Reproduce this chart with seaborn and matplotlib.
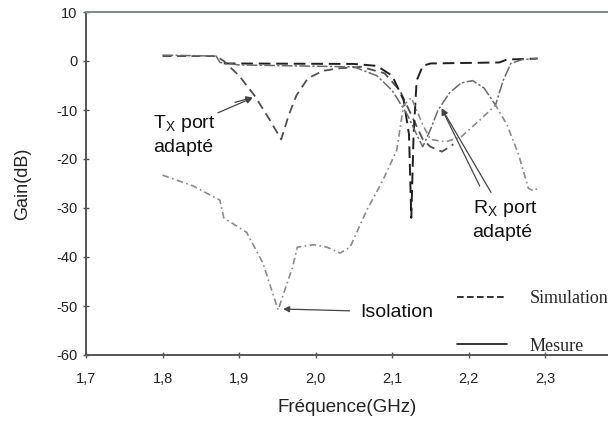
import numpy as np
import pandas as pd
import matplotlib
matplotlib.use("Agg")
import matplotlib.pyplot as plt
from matplotlib.lines import Line2D
import seaborn as sns

# ── Data (frequency in GHz, gain in dB) ──
tx_sim_f = [1.80, 1.87, 1.88, 1.90, 1.92, 1.94, 1.955, 1.965, 1.975, 1.99, 2.01,
            2.03, 2.06, 2.09, 2.11, 2.125, 2.14, 2.15, 2.165, 2.18]
tx_sim_g = [1.0, 1.0, 0.0, -3.0, -7.0, -12.0, -16.0, -11.0, -7.0, -3.5, -2.0,
            -1.5, -1.2, -2.5, -6.0, -11.0, -16.0, -17.5, -18.5, -17.0]

rx_sim_f = [1.88, 2.05, 2.08, 2.10, 2.115, 2.122, 2.125, 2.128, 2.132, 2.14,
            2.15, 2.24, 2.25, 2.29]
rx_sim_g = [-0.5, -0.6, -1.0, -3.0, -8.0, -15.0, -32.0, -15.0, -4.0, -1.0,
            -0.5, -0.3, 0.3, 0.5]

meas_f = [1.80, 1.87, 1.875, 1.90, 2.05, 2.08, 2.10, 2.12, 2.135, 2.14, 2.15,
          2.16, 2.175, 2.19, 2.205, 2.22, 2.235, 2.245, 2.255, 2.27, 2.29]
meas_g = [1.2, 1.0, -0.3, -0.8, -1.2, -3.0, -6.0, -11.0, -16.0, -17.5, -14.0,
          -10.0, -6.5, -4.5, -4.0, -5.5, -9.0, -4.0, -0.5, 0.3, 0.5]

iso_f = [1.80, 1.84, 1.875, 1.88, 1.91, 1.931, 1.951, 1.97, 1.976, 1.997, 2.015,
         2.032, 2.045, 2.067, 2.088, 2.106, 2.115, 2.125, 2.14, 2.15, 2.17, 2.19,
         2.215, 2.235, 2.25, 2.265, 2.278, 2.285, 2.29]
iso_g = [-23.3, -25.5, -28.4, -32.0, -35.0, -41.2, -50.8, -42.0, -38.0, -37.5, -38.0,
         -39.2, -38.0, -30.4, -24.3, -18.2, -9.0, -7.5, -13.0, -16.0, -16.5, -15.5,
         -12.0, -9.0, -13.0, -19.0, -26.0, -26.5, -26.0]

x_ticks = [1.7, 1.8, 1.9, 2.0, 2.1, 2.2, 2.3]
x_tick_labels = ["1,7", "1,8", "1,9", "2,0", "2,1", "2,2", "2,3"]
y_ticks = [10, 0, -10, -20, -30, -40, -50, -60]

sns.set_style("ticks")
plt.rcParams['font.family'] = ['Liberation Sans', 'DejaVu Sans']
plt.rcParams['mathtext.fontset'] = 'custom'
plt.rcParams['mathtext.rm'] = 'Liberation Sans'
plt.rcParams['axes.unicode_minus'] = False

fig = plt.figure(figsize=(6.08, 4.21), dpi=100)
ax = fig.add_axes([86 / 608, 1 - 355 / 421, 522 / 608, 343 / 421])

curves = [
    (tx_sim_f, tx_sim_g, '#505050', (0, (5, 3)), 1.3),
    (rx_sim_f, rx_sim_g, '#202020', (0, (6, 3)), 1.4),
    (meas_f, meas_g, '#6a6a6a', (0, (7, 1.5, 1.5, 1.5)), 1.1),
    (iso_f, iso_g, '#8a8a8a', (0, (4, 2, 1, 2)), 1.2),
]
for f, g, col, ls, lw in curves:
    df = pd.DataFrame({'f': f, 'g': g})
    sns.lineplot(data=df, x='f', y='g', ax=ax, color=col, linewidth=lw,
                 sort=False, estimator=None)
    ax.lines[-1].set_linestyle(ls)

ax.set_xlim(1.7, 2.382)
ax.set_ylim(-60, 10)
ax.set_xticks(x_ticks)
ax.set_xticklabels(x_tick_labels)
ax.set_yticks(y_ticks)
ax.tick_params(axis='both', labelsize=10.5, direction='inout', length=5,
               width=1, color='#555555', labelcolor='#222222')
ax.tick_params(axis='x', pad=10)
ax.set_xlabel('Fréquence(GHz)', fontsize=13.5, color='#222222', labelpad=9)
ax.set_ylabel('Gain(dB)', fontsize=13, color='#222222', labelpad=18)

for side in ['left', 'bottom']:
    ax.spines[side].set_color('#555555')
    ax.spines[side].set_linewidth(1.4)
ax.spines['top'].set_visible(True)
ax.spines['top'].set_color('#7f8c8c')
ax.spines['top'].set_linewidth(1.5)
ax.spines['right'].set_visible(False)

# annotations
arrow = dict(arrowstyle='-|>', color='#444444', lw=0.9, mutation_scale=9)
txt = dict(fontsize=14, color='#111111', ha='left', va='center')
ax.text(1.788, -12.7, r'T$_\mathregular{X}$ port', **txt)
ax.text(1.788, -17.6, 'adapté', **txt)
ax.annotate('', xy=(1.921, -7.3), xytext=(1.869, -10.8), arrowprops=arrow)
ax.annotate('', xy=(1.921, -7.3), xytext=(1.891, -8.6), arrowprops=arrow)

ax.text(2.205, -30.2, r'R$_\mathregular{X}$ port', **txt)
ax.text(2.205, -34.9, 'adapté', **txt)
ax.annotate('', xy=(2.163, -9.2), xytext=(2.231, -27.3), arrowprops=arrow)
ax.annotate('', xy=(2.163, -9.2), xytext=(2.216, -26.0), arrowprops=arrow)

ax.text(2.058, -51.4, 'Isolation', **txt)
ax.annotate('', xy=(1.954, -50.6), xytext=(2.048, -51.0), arrowprops=arrow)

handles = [Line2D([], [], color='#111111', lw=1.2, ls=(0, (4, 2))),
           Line2D([], [], color='#111111', lw=1.2, ls='-')]
ax.legend(handles, ['Simulation', 'Mesure'], loc='upper left',
          bbox_to_anchor=(0.711, 0.19), frameon=False, borderpad=0,
          borderaxespad=0, handlelength=2.75, handletextpad=1.25,
          labelspacing=1.7, prop={'family': 'Liberation Serif', 'size': 13})

fig.savefig('out.png', dpi=100)
